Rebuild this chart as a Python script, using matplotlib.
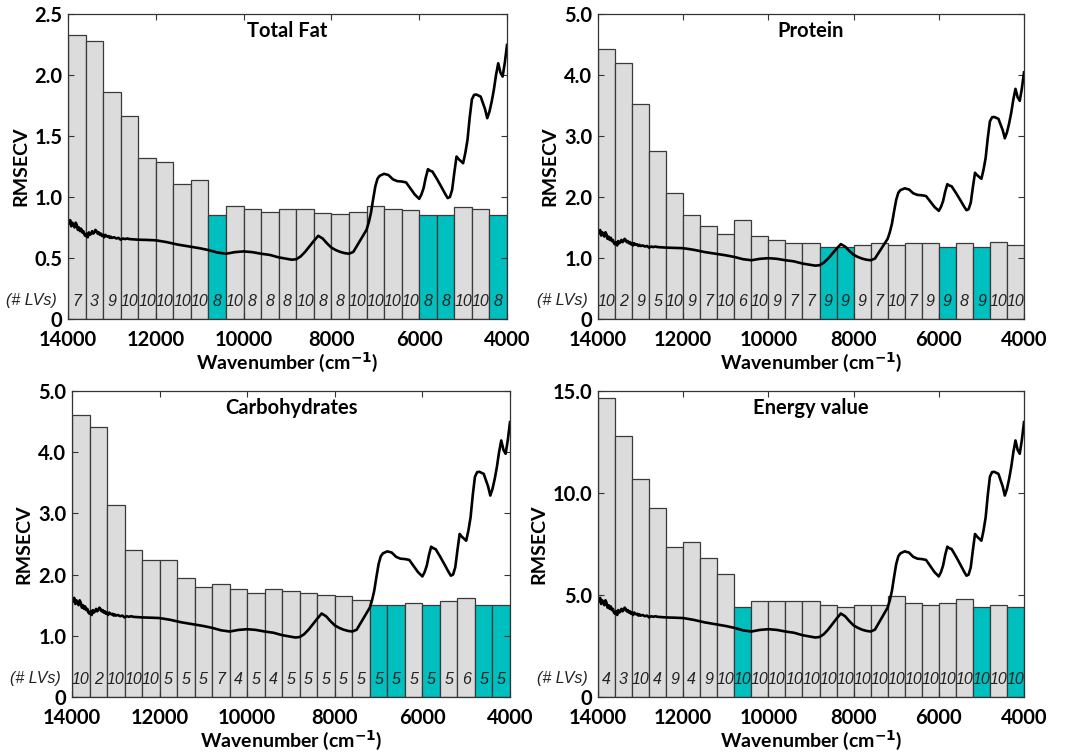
import matplotlib
matplotlib.use("Agg")
import matplotlib.pyplot as plt
import numpy as np

# interval centres (cm-1), 25 windows of 400 cm-1 between 14000 and 4000
edges_start = 14000
win = 400
n_win = 25

fat_rmse = [2.33, 2.28, 1.86, 1.66, 1.32, 1.29, 1.11, 1.14, 0.85, 0.925,
            0.90, 0.88, 0.90, 0.905, 0.865, 0.86, 0.88, 0.925, 0.90, 0.89,
            0.85, 0.85, 0.915, 0.90, 0.85]
fat_lvs = [7, 3, 9, 10, 10, 10, 10, 10, 8, 10, 8, 8, 8, 10, 8, 8, 10, 10, 10, 10,
           8, 8, 10, 10, 8]
fat_sel = [9, 21, 22, 25]

prot_rmse = [4.42, 4.19, 3.53, 2.76, 2.06, 1.70, 1.52, 1.39, 1.62, 1.36,
             1.29, 1.24, 1.25, 1.18, 1.18, 1.21, 1.24, 1.21, 1.24, 1.24,
             1.18, 1.25, 1.18, 1.26, 1.22]
prot_lvs = [10, 2, 9, 5, 10, 9, 7, 10, 6, 10, 9, 7, 7, 9, 9, 9, 7, 10, 7, 9,
            9, 8, 9, 10, 10]
prot_sel = [14, 15, 21, 23]

carb_rmse = [4.61, 4.41, 3.13, 2.41, 2.24, 2.24, 1.95, 1.79, 1.85, 1.77,
             1.70, 1.76, 1.73, 1.70, 1.66, 1.65, 1.58, 1.51, 1.51, 1.54,
             1.51, 1.57, 1.61, 1.51, 1.51]
carb_lvs = [10, 2, 10, 10, 10, 5, 5, 5, 7, 4, 5, 4, 5, 5, 5, 5, 5, 5, 5, 5,
            5, 5, 6, 5, 5]
carb_sel = [18, 19, 21, 24, 25]

energy_rmse = [14.64, 12.78, 10.71, 9.28, 7.36, 7.62, 6.82, 6.05, 4.42, 4.73,
               4.69, 4.73, 4.69, 4.50, 4.42, 4.50, 4.50, 4.96, 4.61, 4.53,
               4.61, 4.81, 4.42, 4.50, 4.42]
energy_lvs = [4, 3, 10, 4, 9, 4, 9] + [10] * 18
energy_sel = [9, 23, 25]

# mean spectrum, read in "Total Fat" axis units (0-2.5)
spec_wn = [14000, 13975, 13950, 13925, 13900, 13875, 13850, 13825, 13800, 13775,
           13750, 13725, 13700, 13675, 13650, 13625, 13600, 13575, 13550, 13525,
           13500, 13475, 13450, 13425, 13400, 13375, 13350, 13325, 13300, 13275,
           13250, 13225, 13200, 13175, 13150, 13125, 13100, 13075, 13050, 13025,
           13000, 12950, 12900, 12850, 12800, 12750, 12700, 12650, 12600, 12400,
           12200, 12000, 11750, 11500,
           11250, 11000, 10800, 10600, 10400, 10200, 10000, 9800, 9600, 9400,
           9200, 9000, 8900, 8800, 8700, 8600, 8500, 8400, 8300, 8200,
           8100, 8000, 7900, 7800, 7700, 7600, 7500, 7400, 7300, 7200,
           7150, 7100, 7050, 7000, 6950, 6900, 6800, 6700, 6600, 6500,
           6400, 6300, 6200, 6100, 6000, 5950, 5900, 5850, 5800, 5750,
           5700, 5600, 5500, 5400, 5350, 5300, 5250, 5200, 5150, 5100,
           5000, 4950, 4900, 4850, 4800, 4750, 4700, 4600, 4500, 4450,
           4400, 4350, 4300, 4250, 4200, 4150, 4100, 4050, 4000]
spec_val = [0.80, 0.78, 0.81, 0.76, 0.79, 0.77, 0.75, 0.79, 0.77, 0.73,
            0.75, 0.72, 0.74, 0.71, 0.72, 0.69, 0.68, 0.70, 0.67, 0.71,
            0.69, 0.70, 0.72, 0.70, 0.71, 0.73, 0.72, 0.70, 0.71, 0.69,
            0.70, 0.68, 0.69, 0.67, 0.69, 0.68, 0.675, 0.68, 0.665, 0.675,
            0.665, 0.67, 0.66, 0.665, 0.65, 0.66, 0.655, 0.66, 0.655, 0.65,
            0.648, 0.645, 0.63, 0.61,
            0.595, 0.58, 0.565, 0.545, 0.535, 0.548, 0.554, 0.548, 0.535, 0.525,
            0.505, 0.492, 0.486, 0.49, 0.513, 0.55, 0.595, 0.64, 0.682, 0.66,
            0.62, 0.585, 0.565, 0.55, 0.54, 0.535, 0.55, 0.61, 0.67, 0.731,
            0.79, 0.868, 0.98, 1.086, 1.15, 1.174, 1.19, 1.18, 1.145, 1.13,
            1.127, 1.12, 1.07, 1.02, 0.985, 1.02, 1.073, 1.16, 1.228, 1.215,
            1.209, 1.15, 1.086, 1.02, 0.991, 1.00, 1.059, 1.20, 1.332, 1.31,
            1.277, 1.36, 1.468, 1.65, 1.80, 1.837, 1.84, 1.823, 1.72, 1.646,
            1.70, 1.78, 1.878, 2.00, 2.096, 2.02, 1.987, 2.10, 2.246]

panels = [
    ("Total Fat", fat_rmse, fat_lvs, fat_sel, 2.5, 1.0,
     [0, 0.5, 1.0, 1.5, 2.0, 2.5], ["0", "0.5", "1.0", "1.5", "2.0", "2.5"],
     [68, 14, 507, 319]),
    ("Protein", prot_rmse, prot_lvs, prot_sel, 5.0, 0.9,
     [0, 1, 2, 3, 4, 5], ["0", "1.0", "2.0", "3.0", "4.0", "5.0"],
     [598, 14, 1024, 319]),
    ("Carbohydrates", carb_rmse, carb_lvs, carb_sel, 5.0, 1.0,
     [0, 1, 2, 3, 4, 5], ["0", "1.0", "2.0", "3.0", "4.0", "5.0"],
     [72, 391, 510, 697]),
    ("Energy value", energy_rmse, energy_lvs, energy_sel, 15.0, 1.0,
     [0, 5, 10, 15], ["0", "5.0", "10.0", "15.0"],
     [598, 391, 1024, 697]),
]

W, H = 1074, 753
GRAY = "#dcdcdc"
TEAL = "#00bfbf"
LBL_FONT = "Lato"

fig = plt.figure(figsize=(W / 100, H / 100), dpi=100)

centres = np.array([edges_start - win / 2 - win * i for i in range(n_win)])

for title, rmse, lvs, sel, ymax, k, yt, ytl, box in panels:
    x0, y0, x1, y1 = box
    ax = fig.add_axes([x0 / W, (H - y1) / H, (x1 - x0) / W, (y1 - y0) / H])
    colors = [TEAL if (i + 1) in sel else GRAY for i in range(n_win)]
    ax.bar(centres, rmse, width=win, color=colors, edgecolor="#3a3a3a",
           linewidth=0.9, zorder=1)
    for c, n in zip(centres, lvs):
        ax.text(c, 0.058 * ymax, str(n), ha="center", va="center",
                fontsize=11.5, style="italic", family="Liberation Sans",
                color="#222222", zorder=3)
    scale = ymax / 2.5 * k
    ax.plot(spec_wn, np.array(spec_val) * scale, color="black", lw=1.9, zorder=2)

    ax.set_xlim(14000, 4000)
    ax.set_ylim(0, ymax)
    ax.set_xticks([14000, 12000, 10000, 8000, 6000, 4000])
    ax.set_xticklabels(["14000", "12000", "10000", "8000", "6000", "4000"],
                       fontsize=14.5, fontweight="bold", family=LBL_FONT)
    ax.set_yticks(yt)
    ax.set_yticklabels(ytl, fontsize=14.5, fontweight="bold", family=LBL_FONT)
    ax.tick_params(direction="in", top=True, right=True, length=4, width=0.8,
                   color="#333333")
    ax.tick_params(axis="x", pad=8)
    ax.tick_params(axis="y", pad=4)
    for s in ax.spines.values():
        s.set_linewidth(0.9)
        s.set_color("#333333")
    ax.set_xlabel("Wavenumber (cm$^{\\mathbf{-1}}$)", fontsize=14, fontweight="bold",
                  family=LBL_FONT, labelpad=0)
    ax.set_ylabel("RMSECV", fontsize=14, fontweight="bold", family=LBL_FONT,
                  labelpad=4)
    ax.text(0.5, 0.945, title, transform=ax.transAxes, ha="center", va="center",
            fontsize=14.5, fontweight="bold", family=LBL_FONT, zorder=4)
    ax.text(-0.025, 0.062, "(# LVs)", transform=ax.transAxes, ha="right",
            va="center", fontsize=11.5, style="italic", family="Liberation Sans",
            color="#222222")

fig.savefig("out.png", dpi=100)
